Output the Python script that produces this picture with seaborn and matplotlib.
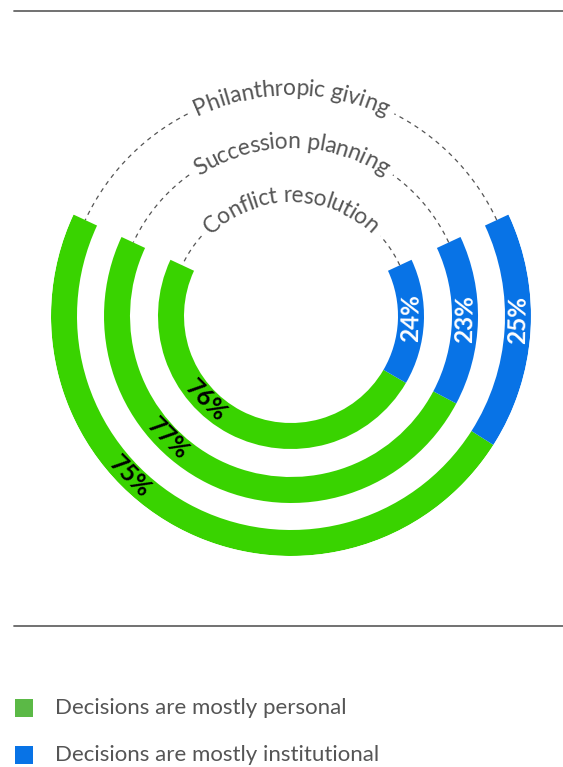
import numpy as np
import seaborn as sns
import matplotlib.pyplot as plt
from matplotlib.patches import Rectangle
from matplotlib.textpath import TextToPath
from matplotlib.font_manager import FontProperties

# data (inner ring -> outer ring)
categories = ["Conflict resolution", "Succession planning", "Philanthropic giving"]
personal = [76, 77, 75]
institutional = [24, 23, 25]
series_names = ["Decisions are mostly personal", "Decisions are mostly institutional"]

GREEN = "#39d300"
BLUE = "#0873e6"
LEG_GREEN = "#5bb946"
GREY = "#555555"

sns.set_style("white")
plt.rcParams['font.family'] = ['Lato', 'DejaVu Sans']

W, H, DPI = 563, 767, 100
fig = plt.figure(figsize=(W / DPI, H / DPI), dpi=DPI)

# background axes in pixel units (rules + legend)
bg = fig.add_axes([0, 0, 1, 1])
bg.set_xlim(0, W)
bg.set_ylim(H, 0)
bg.axis('off')

# polar axes for the rings, 1 unit of r = 1 pixel
cx, cy, RMAX = 291, 316, 240
ax = fig.add_axes([(cx - RMAX) / W, (H - cy - RMAX) / H, 2 * RMAX / W, 2 * RMAX / H],
                  projection='polar')
ax.set_ylim(0, RMAX)
ax.set_axis_off()

r_inner = [107, 161, 214]
THICK = 26
END, SPAN = 25, 230          # arc runs clockwise from 155 deg to 25 deg
LABEL_FS = 16.5
LEGEND_FS = 16
PCT_FS = 17.5

ttp = TextToPath()
prop = FontProperties(family='Lato', size=LABEL_FS)


def ink_width(t):
    return ttp.get_text_width_height_descent(t, prop, ismath=False)[0] * DPI / 72


def arc_text(s, r):
    """Write s along a circle of radius r, centred on top (90 deg)."""
    total = ink_width(s)
    size_px = LABEL_FS * DPI / 72
    rb = r - 0.27 * size_px
    for i, ch in enumerate(s):
        if ch == " ":
            continue
        pos = ink_width(s[:i + 1]) - ink_width(ch) / 2
        ang = 90 + np.degrees((total / 2 - pos) / r)
        ax.text(np.radians(ang), rb, ch, rotation=ang - 90, rotation_mode='anchor',
                ha='center', va='baseline', fontsize=LABEL_FS, color=GREY, clip_on=False)
    return np.degrees(total / 2 / r)


for i, cat in enumerate(categories):
    r0 = r_inner[i]
    rm = r0 + THICK / 2
    tot = personal[i] + institutional[i]
    g = personal[i] / tot * SPAN
    b = institutional[i] / tot * SPAN
    start = END - SPAN
    ax.bar(np.radians(start), THICK, width=np.radians(g), bottom=r0, align='edge',
           color=GREEN, edgecolor='none', linewidth=0)
    ax.bar(np.radians(start + g), THICK, width=np.radians(b), bottom=r0, align='edge',
           color=BLUE, edgecolor='none', linewidth=0)

    # percentage labels
    ax.text(np.radians(-135), rm, f"{personal[i]}%", rotation=-45, rotation_mode='anchor',
            ha='center', va='center', fontsize=PCT_FS, fontweight='bold', color='black')
    ax.text(np.radians(-1), rm, f"{institutional[i]}%", rotation=89, rotation_mode='anchor',
            ha='center', va='center', fontsize=PCT_FS, fontweight='bold', color='white')

    # curved category label with dashed leaders
    half = arc_text(cat, rm)
    pad = np.degrees(8 / rm)
    left = np.radians(np.linspace(90 + half + pad, 180 - END, 100))
    right = np.radians(np.linspace(END, 90 - half - pad, 100))
    for th in (left, right):
        ax.plot(th, np.full_like(th, rm), color=GREY, lw=0.9, dashes=(3.5, 3.5))

# horizontal rules
bg.plot([14, W], [11, 11], color="#666666", lw=1.3)
bg.plot([14, W], [626, 626], color="#666666", lw=1.3)

# legend
for (name, col, yc) in zip(series_names, [LEG_GREEN, BLUE], [708, 755]):
    bg.add_patch(Rectangle((15, yc - 9), 18, 18, color=col, lw=0))
    bg.text(55, yc, name, fontsize=LEGEND_FS, color=GREY, va='center', ha='left')

fig.savefig("out.png", dpi=DPI)
